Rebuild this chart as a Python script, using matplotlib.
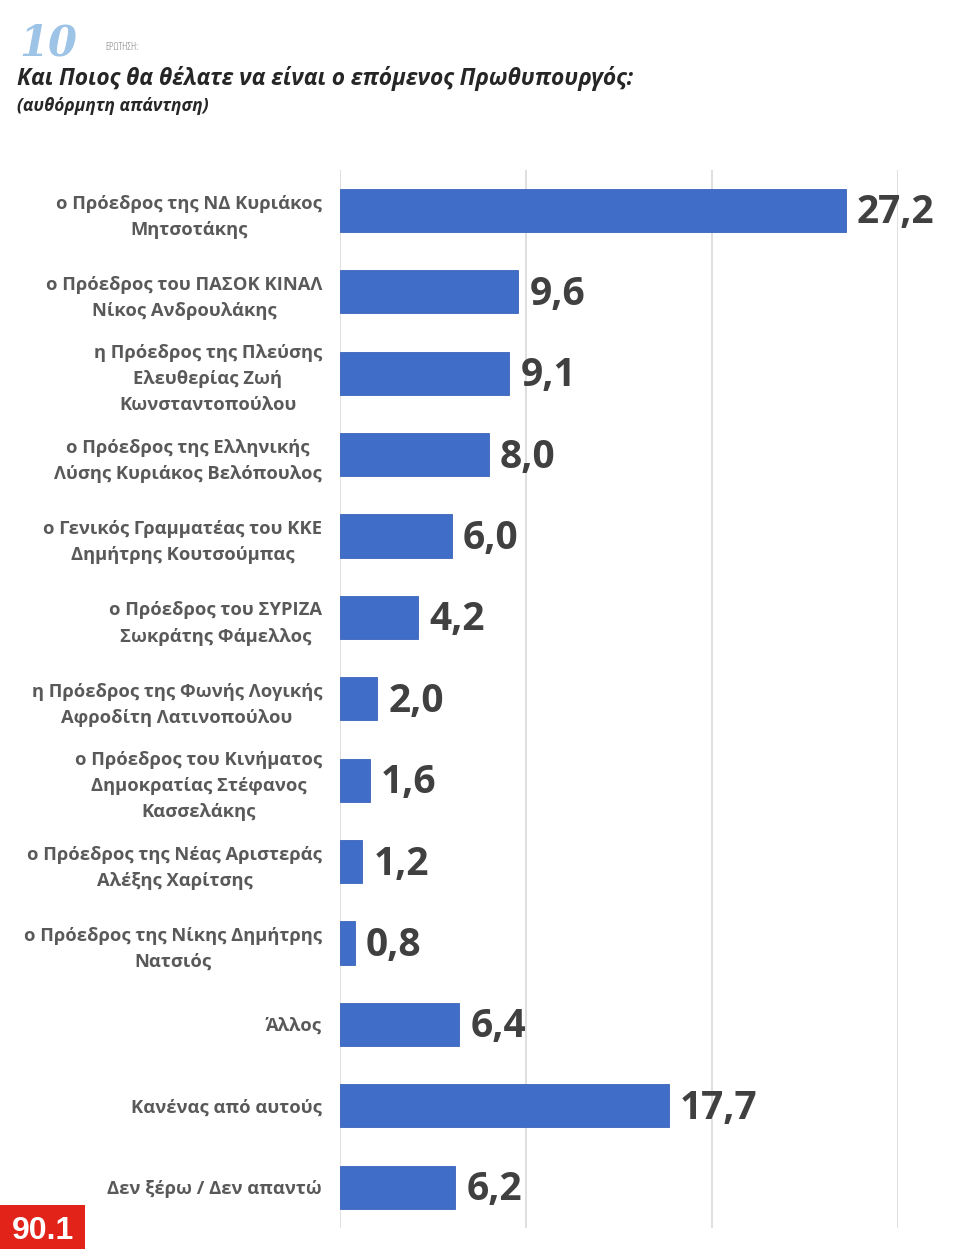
import matplotlib
matplotlib.use("Agg")
import matplotlib.pyplot as plt
from matplotlib.patches import Rectangle

# Δεδομένα
categories = [
    "ο Πρόεδρος της ΝΔ Κυριάκος\nΜητσοτάκης",
    "ο Πρόεδρος του ΠΑΣΟΚ ΚΙΝΑΛ\nΝίκος Ανδρουλάκης",
    "η Πρόεδρος της Πλεύσης\nΕλευθερίας Ζωή\nΚωνσταντοπούλου",
    "ο Πρόεδρος της Ελληνικής\nΛύσης Κυριάκος Βελόπουλος",
    "ο Γενικός Γραμματέας του ΚΚΕ\nΔημήτρης Κουτσούμπας",
    "ο Πρόεδρος του ΣΥΡΙΖΑ\nΣωκράτης Φάμελλος",
    "η Πρόεδρος της Φωνής Λογικής\nΑφροδίτη Λατινοπούλου",
    "ο Πρόεδρος του Κινήματος\nΔημοκρατίας Στέφανος\nΚασσελάκης",
    "ο Πρόεδρος της Νέας Αριστεράς\nΑλέξης Χαρίτσης",
    "ο Πρόεδρος της Νίκης Δημήτρης\nΝατσιός",
    "Άλλος",
    "Κανένας από αυτούς",
    "Δεν ξέρω / Δεν απαντώ",
]
values = [27.2, 9.6, 9.1, 8.0, 6.0, 4.2, 2.0, 1.6, 1.2, 0.8, 6.4, 17.7, 6.2]
value_labels = [f"{v:.1f}".replace(".", ",") for v in values]
title = "Και Ποιος θα θέλατε να είναι ο επόμενος Πρωθυπουργός:"
subtitle = "(αυθόρμητη απάντηση)"

fig = plt.figure(figsize=(9.8, 12.49), dpi=100)
fig.patch.set_facecolor("white")

ax = fig.add_axes([0.347, 0.017, 0.569, 0.847])
y = list(range(len(categories)))
ax.barh(y, values, height=0.53, color="#3F6DC8", edgecolor="#3A64B8", linewidth=0.6, zorder=3)
ax.set_xlim(0, 30)
ax.set_ylim(len(categories) - 0.5, -0.5)
ax.set_xticks([0, 10, 20, 30])
ax.xaxis.grid(True, color="#d9d9d9", linewidth=1.2, zorder=0)
ax.tick_params(axis="x", length=0, labelbottom=False)
ax.tick_params(axis="y", length=0, pad=13)
ax.set_yticks(y)
ax.set_yticklabels(categories, fontsize=13.2, fontweight="bold", color="#595959",
                   family="Open Sans", linespacing=1.58, ha="right", multialignment="center")
for s in ax.spines.values():
    s.set_visible(False)

for yi, v, t in zip(y, values, value_labels):
    ax.text(v + 0.6, yi + 0.03, t, va="center", ha="left", fontsize=28, fontweight="bold",
            color="#404040", family="Open Sans")

# Κεφαλίδα
fig.text(0.02, 0.965, "10", fontsize=30, fontweight="bold", style="italic",
         color="#9DC3E6", family="DejaVu Serif", va="center")
fig.text(0.107, 0.962, "ΕΡΩΤΗΣΗ:", fontsize=7.5, color="#7f7f7f", va="center",
         family="Open Sans", stretch="condensed")
fig.text(0.017, 0.937, title, fontsize=16.4, fontweight="bold", style="italic",
         color="#262626", va="center", family="Open Sans")
fig.text(0.017, 0.915, subtitle, fontsize=12.5, fontweight="bold", style="italic",
         color="#262626", va="center", family="Open Sans")

# Λογότυπο
logo = fig.add_axes([0.0, 0.0, 0.087, 0.035])
logo.add_patch(Rectangle((0, 0), 1, 1, color="#E2231A"))
logo.text(0.5, 0.42, "90.1", color="white", fontsize=23, fontweight="bold",
          ha="center", va="center", family="Liberation Sans")
logo.set_xlim(0, 1)
logo.set_ylim(0, 1)
logo.axis("off")

fig.savefig("out.png", dpi=100, facecolor="white")
